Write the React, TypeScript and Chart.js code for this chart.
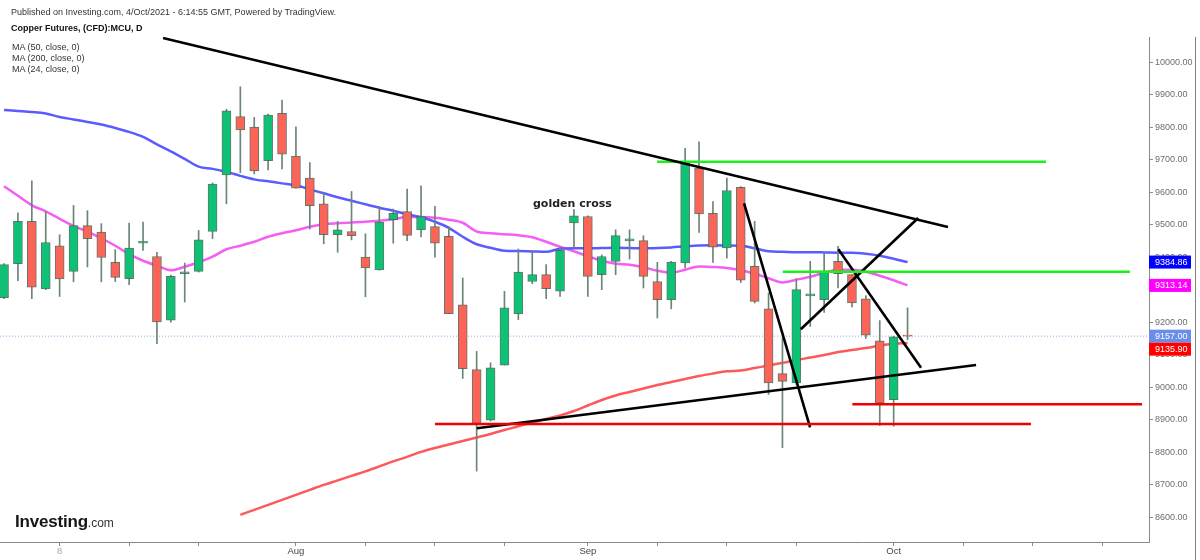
import React, { useEffect, useRef } from 'react';
import { Chart, registerables } from 'chart.js';

Chart.register(...registerables);

// ---- candle data (daily, index 0 = first visible session) ----
const opens = [9275, 9380, 9510, 9302, 9435, 9356, 9497, 9477, 9384, 9334,
  9443, 9402, 9206, 9349, 9356, 9479, 9653, 9832, 9800, 9697,
  9842, 9711, 9643, 9564, 9469, 9479, 9400, 9361, 9515, 9540,
  9484, 9494, 9464, 9253, 9054, 8899, 9068, 9226, 9325, 9346,
  9295, 9505, 9525, 9346, 9387, 9450, 9451, 9325, 9269, 9382,
  9674, 9535, 9428, 9615, 9372, 9241, 9042, 9013, 9281, 9269,
  9387, 9346, 9272, 9143, 8962, 9160];
const highs = [9380, 9536, 9635, 9540, 9469, 9559, 9543, 9503, 9423, 9505,
  9508, 9415, 9345, 9382, 9482, 9628, 9855, 9924, 9830, 9840,
  9883, 9801, 9691, 9597, 9510, 9602, 9472, 9556, 9548, 9609,
  9619, 9556, 9494, 9336, 9110, 9075, 9295, 9425, 9421, 9377,
  9431, 9546, 9527, 9407, 9484, 9484, 9466, 9384, 9387, 9735,
  9755, 9571, 9643, 9617, 9510, 9290, 9152, 9333, 9387, 9413,
  9433, 9346, 9282, 9205, 9157, 9244];
const lows = [9272, 9328, 9272, 9300, 9279, 9324, 9370, 9324, 9325, 9315,
  9421, 9134, 9200, 9262, 9354, 9457, 9564, 9660, 9656, 9668,
  9671, 9612, 9486, 9441, 9415, 9453, 9278, 9360, 9443, 9451,
  9462, 9400, 9226, 9027, 8742, 8896, 9068, 9208, 9318, 9272,
  9279, 9428, 9279, 9300, 9346, 9394, 9305, 9213, 9241, 9367,
  9476, 9384, 9397, 9322, 9259, 8978, 8814, 9008, 9187, 9230,
  9305, 9247, 9150, 8882, 8880, 9146];
const closes = [9377, 9510, 9308, 9445, 9333, 9497, 9457, 9399, 9338, 9428,
  9449, 9201, 9341, 9355, 9453, 9625, 9850, 9791, 9665, 9837,
  9717, 9612, 9558, 9469, 9484, 9466, 9367, 9508, 9535, 9467,
  9525, 9443, 9226, 9057, 8889, 9060, 9244, 9354, 9346, 9303,
  9421, 9527, 9341, 9402, 9466, 9456, 9341, 9269, 9385, 9689,
  9533, 9431, 9605, 9329, 9264, 9013, 9018, 9300, 9287, 9358,
  9349, 9259, 9160, 8952, 9155, 9157];

// ---- moving averages ----
const ma50 = [9852.6, 9849.6, 9846.5, 9841.9, 9831.1, 9823.5, 9815.8, 9808.1, 9797.4, 9785.1,
  9769.7, 9746.7, 9725.2, 9702.2, 9678.5, 9671.5, 9662.3, 9650.0, 9639.2, 9633.1,
  9626.9, 9620.8, 9608.5, 9596.3, 9584.0, 9573.2, 9562.5, 9551.8, 9542.5, 9531.8,
  9522.6, 9508.8, 9490.3, 9462.7, 9439.7, 9428.9, 9419.7, 9418.8, 9417.6, 9416.6,
  9425.9, 9427.4, 9427.0, 9428.0, 9429.0, 9428.0, 9427.0, 9428.0, 9430.0, 9433.5,
  9436.0, 9436.3, 9436.0, 9435.1, 9427.4, 9418.2, 9416.6, 9415.1, 9415.1, 9414.5,
  9413.6, 9413.6, 9410.5, 9404.4, 9395.2, 9384.86];
const ma24 = [9617.8, 9588.6, 9559.4, 9541.0, 9518.0, 9496.5, 9478.0, 9458.1, 9435.1, 9409.0,
  9389.0, 9373.7, 9359.8, 9370.6, 9384.4, 9401.3, 9424.3, 9435.1, 9447.3, 9462.7,
  9473.5, 9482.7, 9493.4, 9501.1, 9504.1, 9506.3, 9508.8, 9511.8, 9516.4, 9523.2,
  9523.2, 9521.0, 9514.9, 9505.7, 9478.7, 9473.5, 9470.4, 9467.3, 9461.2, 9447.3,
  9432.0, 9418.2, 9402.8, 9389.0, 9379.8, 9376.7, 9369.1, 9358.3, 9352.2, 9361.4,
  9371.5, 9369.7, 9366.6, 9359.8, 9349.1, 9335.3, 9322.4, 9330.7, 9339.9, 9352.2,
  9361.4, 9361.4, 9355.2, 9343.0, 9329.1, 9313.14];
const ma200Start = 17;
const ma200 = [8607.6, 8623.0, 8638.3, 8653.7, 8669.0, 8684.4, 8699.7, 8713.5, 8727.4, 8741.2,
  8756.5, 8771.9, 8785.7, 8801.1, 8813.3, 8824.1, 8834.8, 8845.6, 8856.3, 8868.6,
  8879.9, 8891.6, 8902.4, 8913.1, 8926.9, 8943.8, 8960.7, 8974.5, 8985.3, 8996.0,
  9006.8, 9016.0, 9025.2, 9034.4, 9042.1, 9049.1, 9051.3, 9059.0, 9066.6, 9074.9,
  9083.5, 9091.2, 9098.9, 9108.1, 9114.2, 9120.4, 9128.0, 9133.3, 9135.90];

// ---- axes ----
const yTicks = [8600, 8700, 8800, 8900, 9000, 9100, 9200, 9300, 9400, 9500, 9600, 9700, 9800, 9900, 10000];
const yMin = 8524;
const yMax = 10077;
const xMin = -0.29;
const xMax = 82.37;
const xTickIdx = [4, 9, 14, 21, 26, 31, 36, 42, 47, 52, 57, 64, 69, 74, 79];
const xTickLabels = ['8', '', '', 'Aug', '', '', '', 'Sep', '', '', '', 'Oct', '', '', ''];
const lastPrice = 9157.0;

// ---- drawn trend lines / levels (index, price) ----
const lineX1 = [11.44, 46.98, 56.02, 31.0, 61.03, 34.01, 53.24, 57.32, 60.02];
const lineY1 = [10073.8, 9693.4, 9355.2, 8886.8, 8947.4, 8873.6, 9565.5, 9178.1, 9424.1];
const lineX2 = [67.91, 74.96, 81.0, 73.88, 81.87, 69.93, 57.99, 65.76, 65.97];
const lineY2 = [9492.6, 9693.4, 9355.2, 8886.8, 8947.4, 9068.3, 8876.7, 9520.3, 9059.9];
const lineColors = ['#000000', '#1cf01c', '#1cf01c', '#f00000', '#f00000', '#000000', '#000000', '#000000', '#000000'];

// ---- right axis value tags ----
const tagValues = [ma50[ma50.length - 1], ma24[ma24.length - 1], lastPrice, ma200[ma200.length - 1]];
const tagColors = ['#0000ff', '#ff00ff', '#6a8ee8', '#ff0000'];

const GREEN = '#0dc275';
const RED = '#fb6457';
const FONT = "'Liberation Sans', Arial, Helvetica, sans-serif";

const overlayPlugin = {
  id: 'overlayTags',
  afterDraw(chart: any) {
    const { ctx, chartArea } = chart;
    const y = chart.scales.y;
    ctx.save();
    // outer right border
    ctx.strokeStyle = '#808080';
    ctx.lineWidth = 1;
    ctx.beginPath();
    ctx.moveTo(chart.width - 4.5, chartArea.top);
    ctx.lineTo(chart.width - 4.5, chart.height);
    ctx.stroke();
    // price tags
    ctx.font = `9px ${FONT}`;
    ctx.textBaseline = 'middle';
    ctx.textAlign = 'left';
    let prevBottom = -Infinity;
    const h = 13;
    tagValues.forEach((v, k) => {
      const yc = y.getPixelForValue(v);
      let top = yc - h / 2;
      if (top < prevBottom) top = prevBottom;
      prevBottom = top + h;
      const left = chartArea.right;
      ctx.fillStyle = tagColors[k];
      ctx.fillRect(left, top, 42, h);
      ctx.fillStyle = '#ffffff';
      ctx.fillText(v.toFixed(2), left + 6, top + h / 2 + 0.5);
    });
    ctx.restore();
  },
};

export default function App() {
  const ref = useRef<HTMLCanvasElement>(null);

  useEffect(() => {
    const canvas = ref.current;
    if (!canvas) return;
    const idx = opens.map((_, i) => i);

    const lineDatasets = lineX1.map((x1, k) => ({
      type: 'line' as const,
      data: [{ x: x1, y: lineY1[k] }, { x: lineX2[k], y: lineY2[k] }],
      borderColor: lineColors[k],
      borderWidth: 2.6,
      pointRadius: 0,
      order: 1,
    }));

    const chart = new Chart(canvas, {
      type: 'bar',
      data: {
        datasets: [
          {
            type: 'line',
            data: [{ x: xMin, y: lastPrice }, { x: xMax, y: lastPrice }],
            borderColor: 'rgba(110,140,230,0.75)',
            borderWidth: 1,
            borderDash: [1, 2],
            pointRadius: 0,
            order: 9,
          },
          {
            type: 'line',
            data: idx.map((i) => ({ x: i, y: ma50[i] })),
            borderColor: '#5a5cff',
            borderWidth: 2.5,
            pointRadius: 0,
            cubicInterpolationMode: 'monotone',
            order: 8,
          },
          {
            type: 'line',
            data: idx.map((i) => ({ x: i, y: ma24[i] })),
            borderColor: '#f45ef4',
            borderWidth: 2.5,
            pointRadius: 0,
            cubicInterpolationMode: 'monotone',
            order: 8,
          },
          {
            type: 'line',
            data: ma200.map((v, k) => ({ x: k + ma200Start, y: v })),
            borderColor: '#fc5a5a',
            borderWidth: 2.5,
            pointRadius: 0,
            cubicInterpolationMode: 'monotone',
            order: 8,
          },
          {
            type: 'bar',
            data: idx.map((i) => ({ x: i, y: [lows[i], highs[i]] })),
            backgroundColor: '#6b8577',
            barThickness: 1,
            grouped: false,
            order: 6,
          } as any,
          {
            type: 'bar',
            data: idx.map((i) => ({ x: i, y: [opens[i], closes[i]] })),
            backgroundColor: idx.map((i) => (closes[i] >= opens[i] ? GREEN : RED)),
            borderColor: 'rgba(70,95,82,0.85)',
            borderWidth: 1,
            borderSkipped: false,
            barThickness: 9,
            grouped: false,
            order: 5,
          } as any,
          ...lineDatasets,
        ],
      },
      options: {
        responsive: false,
        animation: false,
        events: [],
        layout: { padding: { top: 37, left: 0, right: 0, bottom: 0 } },
        plugins: {
          legend: { display: false },
          tooltip: { enabled: false },
        },
        scales: {
          x: {
            type: 'linear',
            min: xMin,
            max: xMax,
            offset: false,
            afterFit: (scale: any) => {
              scale.height = 18;
            },
            afterBuildTicks: (scale: any) => {
              scale.ticks = xTickIdx.map((v) => ({ value: v }));
            },
            grid: {
              offset: false,
              drawOnChartArea: false,
              drawTicks: true,
              tickLength: 4,
              color: '#8a8a8a',
            },
            border: { display: true, color: '#8a8a8a', width: 1 },
            ticks: {
              autoSkip: false,
              maxRotation: 0,
              padding: 0,
              font: { size: 9.5, family: FONT },
              color: (c: any) => (c.index === 0 ? '#aaaaaa' : '#444444'),
              callback: (_v: any, i: number) => xTickLabels[i] ?? '',
            },
          },
          y: {
            type: 'linear',
            position: 'right',
            min: yMin,
            max: yMax,
            afterFit: (scale: any) => {
              scale.width = 51;
            },
            afterBuildTicks: (scale: any) => {
              scale.ticks = yTicks.map((v) => ({ value: v }));
            },
            grid: {
              offset: false,
              drawOnChartArea: false,
              drawTicks: true,
              tickLength: 4,
              color: '#8a8a8a',
            },
            border: { display: true, color: '#8a8a8a', width: 1 },
            ticks: {
              padding: 2,
              font: { size: 9, family: FONT },
              color: '#6e6e6e',
              callback: (v: any) => Number(v).toFixed(2),
            },
          },
        },
      } as any,
      plugins: [overlayPlugin],
    });

    return () => {
      chart.destroy();
    };
  }, []);

  return (
    <div
      style={{
        position: 'absolute',
        left: 0,
        top: 0,
        width: 1200,
        height: 560,
        background: '#ffffff',
        overflow: 'hidden',
        fontFamily: FONT,
      }}
    >
      <canvas ref={ref} width={1200} height={560} style={{ position: 'absolute', left: 0, top: 0 }} />
      <div style={{ position: 'absolute', left: 11, top: 6, fontSize: 9, lineHeight: '12px', color: '#333', whiteSpace: 'nowrap' }}>
        Published on Investing.com, 4/Oct/2021 - 6:14:55 GMT, Powered by TradingView.
      </div>
      <div style={{ position: 'absolute', left: 11, top: 22, fontSize: 9, lineHeight: '12px', fontWeight: 'bold', color: '#111', whiteSpace: 'nowrap' }}>
        Copper Futures, (CFD):MCU, D
      </div>
      <div style={{ position: 'absolute', left: 12, top: 42, fontSize: 9, lineHeight: '11.2px', color: '#333', whiteSpace: 'nowrap' }}>
        <div>MA (50, close, 0)</div>
        <div>MA (200, close, 0)</div>
        <div>MA (24, close, 0)</div>
      </div>
      <div style={{ position: 'absolute', left: 533, top: 197, fontSize: 11, lineHeight: '13px', fontWeight: 'bold', fontFamily: "'DejaVu Sans', Verdana, sans-serif", color: '#222', whiteSpace: 'nowrap' }}>
        golden cross
      </div>
      <div style={{ position: 'absolute', left: 15, top: 512, lineHeight: '19px', whiteSpace: 'nowrap', color: '#161616' }}>
        <span style={{ fontWeight: 'bold', fontSize: 17, letterSpacing: -0.2 }}>Investing</span>
        <span style={{ fontSize: 12, color: '#333' }}>.com</span>
      </div>
    </div>
  );
}
